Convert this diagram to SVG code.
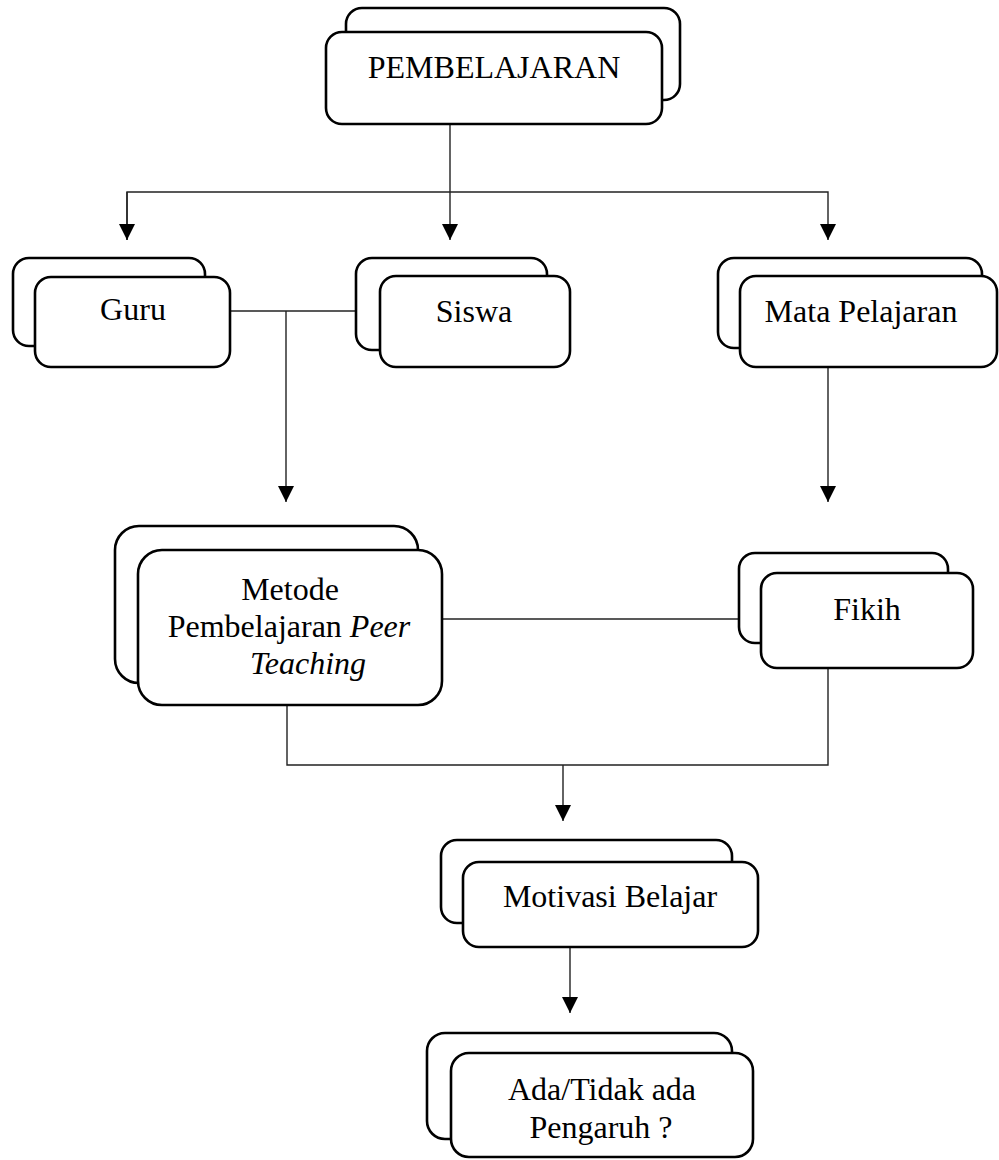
<svg xmlns="http://www.w3.org/2000/svg" width="999" height="1160" viewBox="0 0 999 1160">
<style>
.box{fill:#fff;stroke:#000;stroke-width:2.6}
.ln{fill:none;stroke:#222;stroke-width:1.4}
.t{font-family:"Liberation Serif","Times New Roman",serif;font-size:32px;fill:#000;text-anchor:middle}
.i{font-style:italic}
</style>
<defs>
<marker id="arr" markerUnits="userSpaceOnUse" viewBox="0 0 16 16" refX="16" refY="8" markerWidth="16" markerHeight="16" orient="auto">
<path d="M0,0 L16,8 L0,16 Z" fill="#000"/>
</marker>
</defs>
<rect width="999" height="1160" fill="#fff"/>
<g id="connectors">
<line class="ln" x1="450" y1="124" x2="450" y2="240" marker-end="url(#arr)"/>
<polyline class="ln" points="127,240 127,192 828,192 828,240" marker-end="url(#arr)"/>
<line class="ln" x1="127" y1="192" x2="127" y2="240" marker-end="url(#arr)"/>
<line class="ln" x1="230" y1="311" x2="356" y2="311"/>
<line class="ln" x1="286" y1="311" x2="286" y2="502" marker-end="url(#arr)"/>
<line class="ln" x1="828" y1="367" x2="828" y2="502" marker-end="url(#arr)"/>
<line class="ln" x1="442" y1="619" x2="739" y2="619"/>
<polyline class="ln" points="287,705 287,765 828,765 828,668"/>
<line class="ln" x1="563" y1="765" x2="563" y2="821" marker-end="url(#arr)"/>
<line class="ln" x1="570" y1="947" x2="570" y2="1013" marker-end="url(#arr)"/>
</g>
<g id="pembelajaran">
<rect class="box" x="346" y="8" width="334" height="92" rx="16"/>
<rect class="box" x="326" y="32" width="336" height="92" rx="16"/>
<text class="t" x="494" y="78">PEMBELAJARAN</text>
</g>
<g id="guru">
<rect class="box" x="13" y="258" width="192" height="88" rx="16"/>
<rect class="box" x="35" y="277" width="195" height="90" rx="16"/>
<text class="t" x="133" y="320">Guru</text>
</g>
<g id="siswa">
<rect class="box" x="356" y="258" width="191" height="92" rx="16"/>
<rect class="box" x="380" y="276" width="190" height="91" rx="16"/>
<text class="t" x="474" y="322">Siswa</text>
</g>
<g id="mata-pelajaran">
<rect class="box" x="718" y="258" width="264" height="90" rx="16"/>
<rect class="box" x="740" y="276" width="257" height="91" rx="16"/>
<text class="t" x="861" y="322">Mata Pelajaran</text>
</g>
<g id="metode">
<rect class="box" x="115" y="526" width="303" height="157" rx="24"/>
<rect class="box" x="138" y="550" width="304" height="155" rx="24"/>
<text class="t" x="290" y="600">Metode</text>
<text class="t" x="289" y="637">Pembelajaran <tspan class="i">Peer</tspan></text>
<text class="t i" x="308" y="674">Teaching</text>
</g>
<g id="fikih">
<rect class="box" x="739" y="553" width="209" height="90" rx="16"/>
<rect class="box" x="761" y="573" width="212" height="95" rx="16"/>
<text class="t" x="867" y="620">Fikih</text>
</g>
<g id="motivasi">
<rect class="box" x="441" y="840" width="291" height="83" rx="16"/>
<rect class="box" x="463" y="862" width="295" height="85" rx="16"/>
<text class="t" x="610" y="907">Motivasi Belajar</text>
</g>
<g id="pengaruh">
<rect class="box" x="427" y="1033" width="305" height="106" rx="18"/>
<rect class="box" x="451" y="1053" width="302" height="104" rx="18"/>
<text class="t" x="602" y="1100">Ada/Tidak ada</text>
<text class="t" x="601" y="1138">Pengaruh ?</text>
</g>
</svg>
